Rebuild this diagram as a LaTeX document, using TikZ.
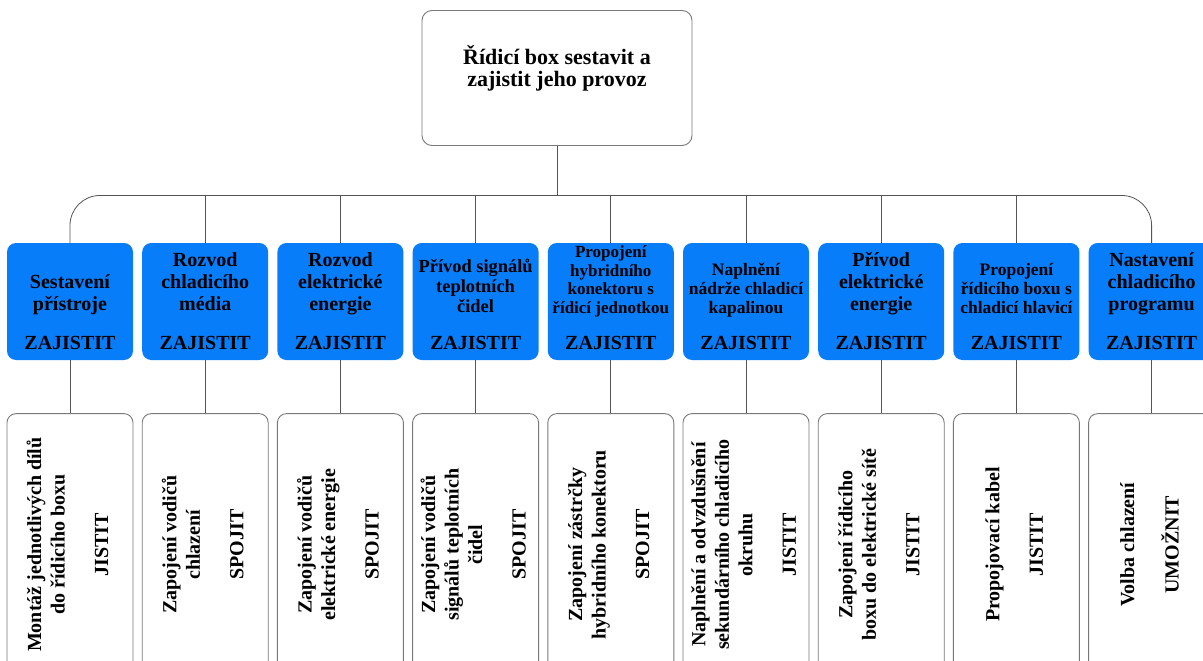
\documentclass[tikz,border=0pt]{standalone}
\usepackage{fontspec}
\setmainfont{Liberation Serif}
\usetikzlibrary{positioning}
\definecolor{boxblue}{RGB}{8,125,250}
\definecolor{linegray}{RGB}{85,85,85}
\definecolor{framegray}{RGB}{120,120,120}
\newcommand{\actfont}{\fontsize{20}{22}\selectfont}
\newcommand{\tasktext}[3][17pt]{\begin{tabular}[b]{@{}c@{}}#2\\[#1]#3\end{tabular}}

\begin{document}
\begin{tikzpicture}[
    x=1pt, y=1pt,
    goal/.style={rectangle, rounded corners=10pt, draw=framegray, line width=0.9pt, minimum width=270pt, minimum height=135pt, inner sep=0pt, text height=40pt, text depth=22pt, font=\bfseries\fontsize{22}{22}\selectfont},
    subgoal/.style={rectangle, rounded corners=9pt, fill=boxblue, minimum width=126pt, minimum height=117pt, inner sep=0pt, text height=100pt, text depth=5pt, font=\bfseries\fontsize{20}{22}\selectfont},
    smalltext/.style={font=\bfseries\fontsize{17.5}{19}\selectfont},
    task/.style={rectangle, rounded corners=9pt, draw=framegray, line width=0.9pt, rotate=90, minimum width=262pt, minimum height=126pt, inner sep=0pt, font=\bfseries\fontsize{20}{23.5}\selectfont},
    conn/.style={draw=linegray, line width=0.8pt}
]
    \path[use as bounding box] (0,0) rectangle (1203,-661);
    \clip (0,0) rectangle (1203,-661);

    % Goal
    \node[goal] (goal) at (557,-78) {\begin{tabular}[b]{@{}c@{}}Řídicí box sestavit a\\zajistit jeho provoz\end{tabular}};
    \coordinate[below=49.5pt of goal] (bus);

    % Sub goals
    \node[subgoal] (s1) at (70,-301.5) {\tasktext{Sestavení\\přístroje}{\actfont ZAJISTIT}};
    \node[subgoal, right=8.8pt of s1] (s2) {\tasktext{Rozvod\\chladicího\\média}{\actfont ZAJISTIT}};
    \node[subgoal, right=8.8pt of s2] (s3) {\tasktext{Rozvod\\elektrické\\energie}{\actfont ZAJISTIT}};
    \node[subgoal, right=8.8pt of s3, font=\bfseries\fontsize{18.4}{20}\selectfont] (s4) {\tasktext{Přívod signálů\\teplotních\\čidel}{\actfont ZAJISTIT}};
    \node[subgoal, right=8.8pt of s4, font=\bfseries\fontsize{17}{18.5}\selectfont] (s5) {\tasktext{Propojení\\hybridního\\konektoru s\\řídicí jednotkou}{\actfont ZAJISTIT}};
    \node[subgoal, right=8.8pt of s5, smalltext] (s6) {\tasktext{Naplnění\\nádrže chladicí\\kapalinou}{\actfont ZAJISTIT}};
    \node[subgoal, right=8.8pt of s6] (s7) {\tasktext{Přívod\\elektrické\\energie}{\actfont ZAJISTIT}};
    \node[subgoal, right=8.8pt of s7, smalltext] (s8) {\tasktext{Propojení\\řídicího boxu s\\chladicí hlavicí}{\actfont ZAJISTIT}};
    \node[subgoal, right=8.8pt of s8] (s9) {\tasktext{Nastavení\\chladicího\\programu}{\actfont ZAJISTIT}};

    % Tasks
    \node[task, below=53pt of s1, anchor=east] (t1) {\tasktext[20pt]{Montáž jednotlivých dílů\\do řídicího boxu}{JISTIT}};
    \node[task, below=53pt of s2, anchor=east] (t2) {\tasktext[20pt]{Zapojení vodičů\\chlazení}{SPOJIT}};
    \node[task, below=53pt of s3, anchor=east] (t3) {\tasktext[20pt]{Zapojení vodičů\\elektrické energie}{SPOJIT}};
    \node[task, below=53pt of s4, anchor=east] (t4) {\tasktext[20pt]{Zapojení vodičů\\signálů teplotních\\čidel}{SPOJIT}};
    \node[task, below=53pt of s5, anchor=east] (t5) {\tasktext[20pt]{Zapojení zástrčky\\hybridního konektoru}{SPOJIT}};
    \node[task, below=53pt of s6, anchor=east] (t6) {\tasktext[20pt]{Naplnění a odvzdušnění\\sekundárního chladicího\\okruhu}{JISTIT}};
    \node[task, below=53pt of s7, anchor=east] (t7) {\tasktext[20pt]{Zapojení řídicího\\boxu do elektrické sítě}{JISTIT}};
    \node[task, below=53pt of s8, anchor=east] (t8) {\tasktext[20pt]{Propojovací kabel}{JISTIT}};
    \node[task, below=53pt of s9, anchor=east] (t9) {\tasktext[20pt]{Volba chlazení}{UMOŽNIT}};

    % Connectors
    \draw[conn] (goal) -- (bus);
    \draw[conn, rounded corners=30pt] (s1.north) |- (bus) -| (s9.north);
    \foreach \i in {2,...,8}
        \draw[conn] (s\i.north) -- (s\i.north |- bus);
    \foreach \i in {1,...,9}
        \draw[conn] (s\i) -- (t\i);
\end{tikzpicture}
\end{document}
